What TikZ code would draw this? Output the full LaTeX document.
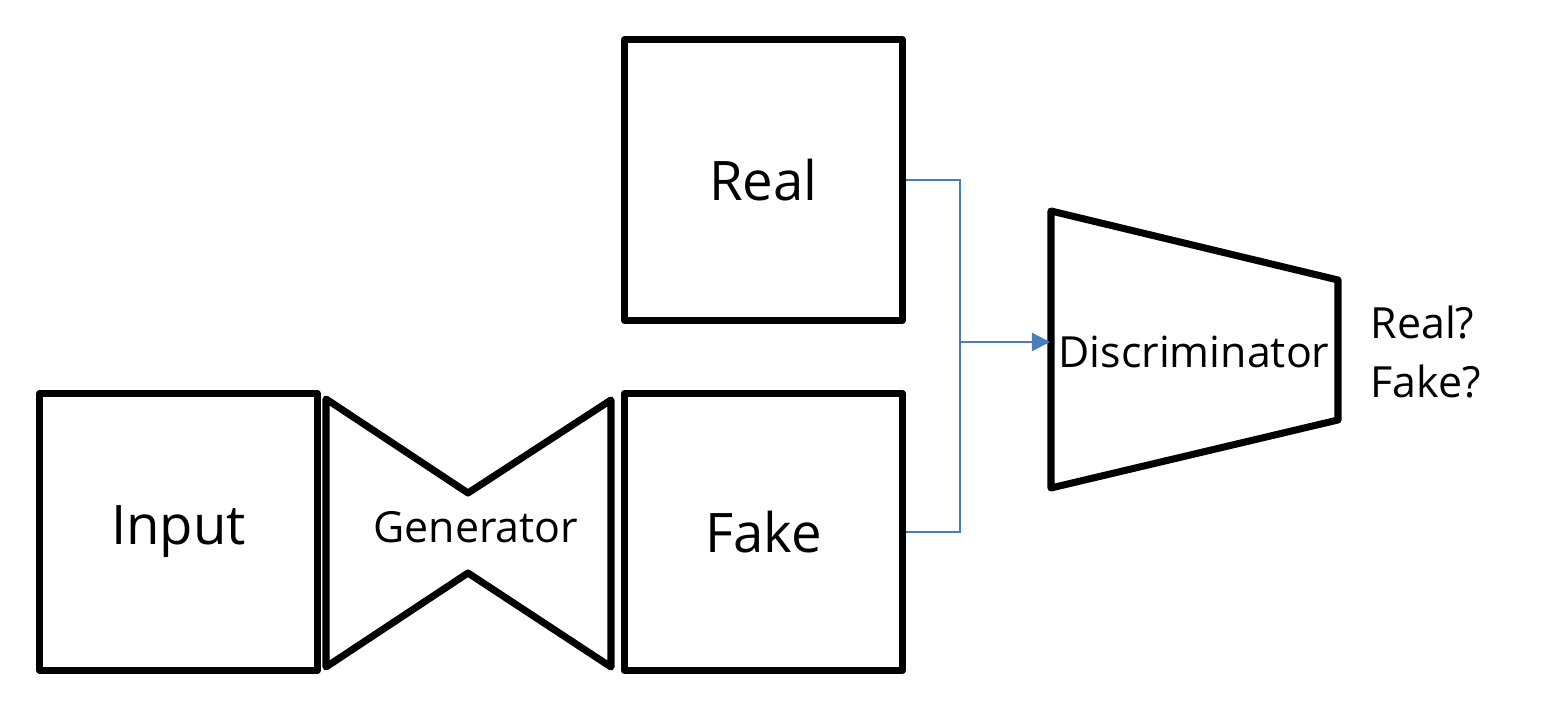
\documentclass[tikz,border=0pt]{standalone}
\usepackage{fontspec}
\setmainfont{Open Sans}
\usetikzlibrary{arrows.meta,calc,positioning}
\definecolor{linkblue}{RGB}{74,126,187}

\begin{document}
\begin{tikzpicture}[
    x=0.01cm,y=-0.01cm,
    block/.style={draw=black,line width=2pt,line join=round,minimum width=2.78cm,minimum height=2.77cm,inner sep=0pt,font=\fontsize{15.5}{18}\selectfont},
    net/.style={draw=black,line width=2pt,line join=round},
    netlabel/.style={font=\fontsize{12.2}{17}\selectfont,inner sep=0pt},
    link/.style={linkblue,line width=0.6pt},
    feed/.style={-{Triangle[length=1.8mm,width=1.8mm]},linkblue,line width=0.6pt}
]
\useasboundingbox (0,0) rectangle (1556,704);

\node[block,minimum width=2.77cm] (input) at (178.5,532) {Input};
\node[block,minimum height=2.8cm] (real) at (763.5,180) {Real};
\node[block] (fake) at (763.5,532) {Fake};

% generator
\draw[net] (326,399) -- (468,493) -- (611,400) -- (611,667) -- (468,573) -- (326,667) -- cycle;
\node[netlabel] (gen) at (476,527) {Generator};

% discriminator
\draw[net] (1051,211) -- (1338,280) -- (1338,420) -- (1051,488) -- cycle;
\node[netlabel] (disc) at (1194,352) {Discriminator};
\coordinate (discin) at (1050,342);
\node[netlabel,align=left,anchor=west] (verdict) at (1370,352) {Real?\\Fake?};

\coordinate (join) at (960,342);
\draw[link] (real.east) -| (join) |- (fake.east);
\draw[feed] (join) -- (discin);
\end{tikzpicture}
\end{document}
